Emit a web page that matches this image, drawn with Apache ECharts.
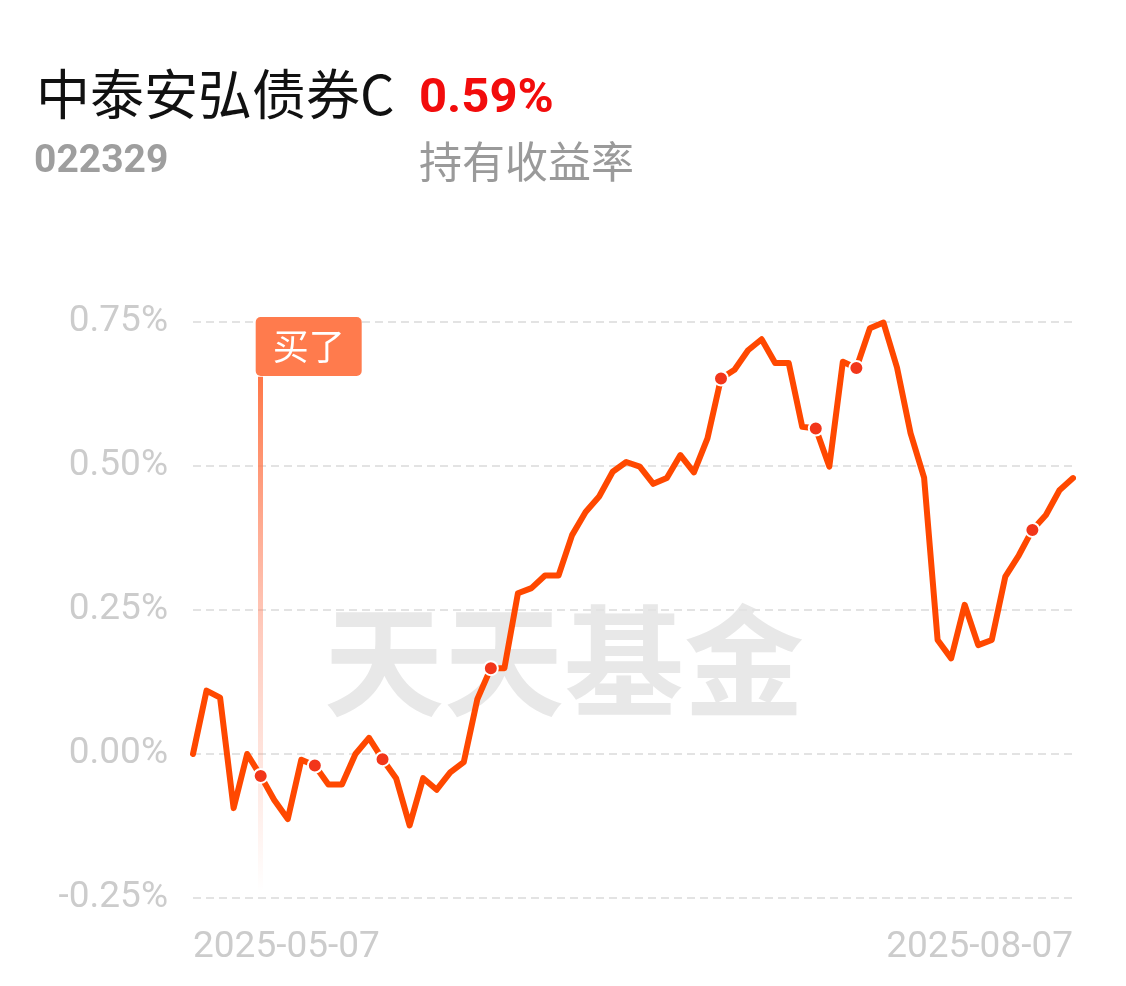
<!DOCTYPE html>
<html>
<head>
<meta charset="utf-8">
<script src="https://cdn.jsdelivr.net/npm/echarts@6/dist/echarts.min.js"></script>
<style>
html,body{margin:0;padding:0;background:#fff;}
#c{width:1126px;height:986px;}
</style>
</head>
<body>
<div id="c"></div>
<script>
const fundName = '中泰安弘债券C';
const fundCode = '022329';
const holdReturn = '0.59%';
const holdReturnLabel = '持有收益率';
const watermark = '天天基金';
const buyLabel = '买了';

const dates = [
  '2025-05-07','2025-05-08','2025-05-09','2025-05-12','2025-05-13','2025-05-14','2025-05-15','2025-05-16',
  '2025-05-19','2025-05-20','2025-05-21','2025-05-22','2025-05-23','2025-05-26','2025-05-27','2025-05-28',
  '2025-05-29','2025-05-30','2025-06-03','2025-06-04','2025-06-05','2025-06-06','2025-06-09','2025-06-10',
  '2025-06-11','2025-06-12','2025-06-13','2025-06-16','2025-06-17','2025-06-18','2025-06-19','2025-06-20',
  '2025-06-23','2025-06-24','2025-06-25','2025-06-26','2025-06-27','2025-06-30','2025-07-01','2025-07-02',
  '2025-07-03','2025-07-04','2025-07-07','2025-07-08','2025-07-09','2025-07-10','2025-07-11','2025-07-14',
  '2025-07-15','2025-07-16','2025-07-17','2025-07-18','2025-07-21','2025-07-22','2025-07-23','2025-07-24',
  '2025-07-25','2025-07-28','2025-07-29','2025-07-30','2025-07-31','2025-08-01','2025-08-04','2025-08-05',
  '2025-08-06','2025-08-07'
];

const returns = [
  0.00, 0.11, 0.098, -0.094, 0.00, -0.038, -0.08, -0.113, -0.01, -0.02,
  -0.053, -0.053, 0.00, 0.028, -0.009, -0.042, -0.124, -0.042, -0.062, -0.032,
  -0.014, 0.095, 0.149, 0.149, 0.279, 0.288, 0.31, 0.31, 0.38, 0.42,
  0.447, 0.49, 0.507, 0.499, 0.469, 0.479, 0.519, 0.489, 0.548, 0.652,
  0.667, 0.701, 0.72, 0.679, 0.679, 0.568, 0.565, 0.499, 0.681, 0.670,
  0.739, 0.749, 0.671, 0.557, 0.480, 0.198, 0.166, 0.259, 0.189, 0.198,
  0.308, 0.345, 0.389, 0.415, 0.458, 0.479
];

const markedDates = ['2025-05-14','2025-05-20','2025-05-27','2025-06-09','2025-07-02','2025-07-11','2025-07-16','2025-08-04'];
const buyDate = '2025-05-14';

const chart = echarts.init(document.getElementById('c'), null, {renderer: 'canvas'});

const dotData = markedDates.map(d => [d, returns[dates.indexOf(d)]]);

const option = {
  backgroundColor: '#ffffff',
  animation: false,
  grid: {left: 193, right: 53, top: 322, bottom: 88, containLabel: false},
  graphic: [
    {type: 'text', left: 36, top: 67, z: 10, style: {text: fundName, fontSize: 54, fontFamily: 'Noto Sans CJK SC', fill: '#111111'}},
    {type: 'text', left: 419, top: 75, z: 10, style: {text: holdReturn, fontSize: 49, fontWeight: 'bold', fontFamily: 'Roboto', fill: '#f20c0c'}},
    {type: 'text', left: 34, top: 143, z: 10, style: {text: fundCode, fontSize: 39, fontWeight: 'bold', fontFamily: 'Roboto', fill: '#9e9e9e'}},
    {type: 'text', left: 419, top: 140, z: 10, style: {text: holdReturnLabel, fontSize: 43, fontFamily: 'Noto Sans CJK SC', fill: '#9a9a9a'}},
    {type: 'text', left: 324, top: 601, z: 0, silent: true, style: {text: watermark, fontSize: 120, fontWeight: 'bold', fontFamily: 'Noto Sans CJK SC', fill: '#e8e8e8'}}
  ],
  xAxis: {
    type: 'category',
    data: dates,
    boundaryGap: false,
    axisLine: {show: false},
    axisTick: {show: false},
    splitLine: {show: false},
    axisLabel: {
      interval: (i) => i === 0 || i === dates.length - 1,
      showMinLabel: true,
      showMaxLabel: true,
      alignMinLabel: 'left',
      alignMaxLabel: 'right',
      color: '#cccccc',
      fontSize: 37,
      fontFamily: 'Roboto',
      margin: 31
    }
  },
  yAxis: {
    type: 'value',
    min: -0.25,
    max: 0.75,
    interval: 0.25,
    axisLine: {show: false},
    axisTick: {show: false},
    axisLabel: {
      formatter: (v) => v.toFixed(2) + '%',
      color: '#cccccc',
      fontSize: 37,
      fontFamily: 'Roboto',
      margin: 25
    },
    splitLine: {show: true, lineStyle: {color: '#e3e3e3', width: 2, type: [8, 5]}}
  },
  series: [
    {
      type: 'line',
      data: returns,
      showSymbol: false,
      symbol: 'none',
      z: 3,
      lineStyle: {color: '#ff4800', width: 6, join: 'round', cap: 'round'},
      markLine: {
        silent: true,
        symbol: ['none', 'none'],
        z: 2,
        label: {show: false},
        lineStyle: {
          type: 'solid',
          width: 5,
          color: new echarts.graphic.LinearGradient(0, 0, 0, 1, [
            {offset: 0, color: 'rgba(255,118,70,1)'},
            {offset: 0.5, color: 'rgba(255,140,110,0.45)'},
            {offset: 1, color: 'rgba(255,140,110,0.0)'}
          ])
        },
        emphasis: {disabled: true},
        data: [[{coord: [buyDate, 0.655]}, {coord: [buyDate, -0.236]}]]
      },
      markPoint: {
        silent: true,
        z: 4,
        symbol: 'rect',
        symbolSize: [2, 2],
        itemStyle: {color: 'rgba(255,123,77,0)'},
        label: {
          show: true,
          position: [-4, -4],
          formatter: buyLabel,
          color: '#ffffff',
          fontSize: 36,
          lineHeight: 39,
          fontFamily: 'Noto Sans CJK SC',
          backgroundColor: '#ff7b4d',
          borderRadius: 5,
          padding: [10, 17, 10, 17]
        },
        data: [{coord: [buyDate, 0.75]}]
      }
    },
    {
      type: 'scatter',
      data: dotData,
      z: 5,
      symbol: 'circle',
      symbolSize: 14,
      itemStyle: {color: '#f2361a', borderColor: '#ffffff', borderWidth: 2, opacity: 1}
    }
  ]
};

chart.setOption(option);
</script>
</body>
</html>
